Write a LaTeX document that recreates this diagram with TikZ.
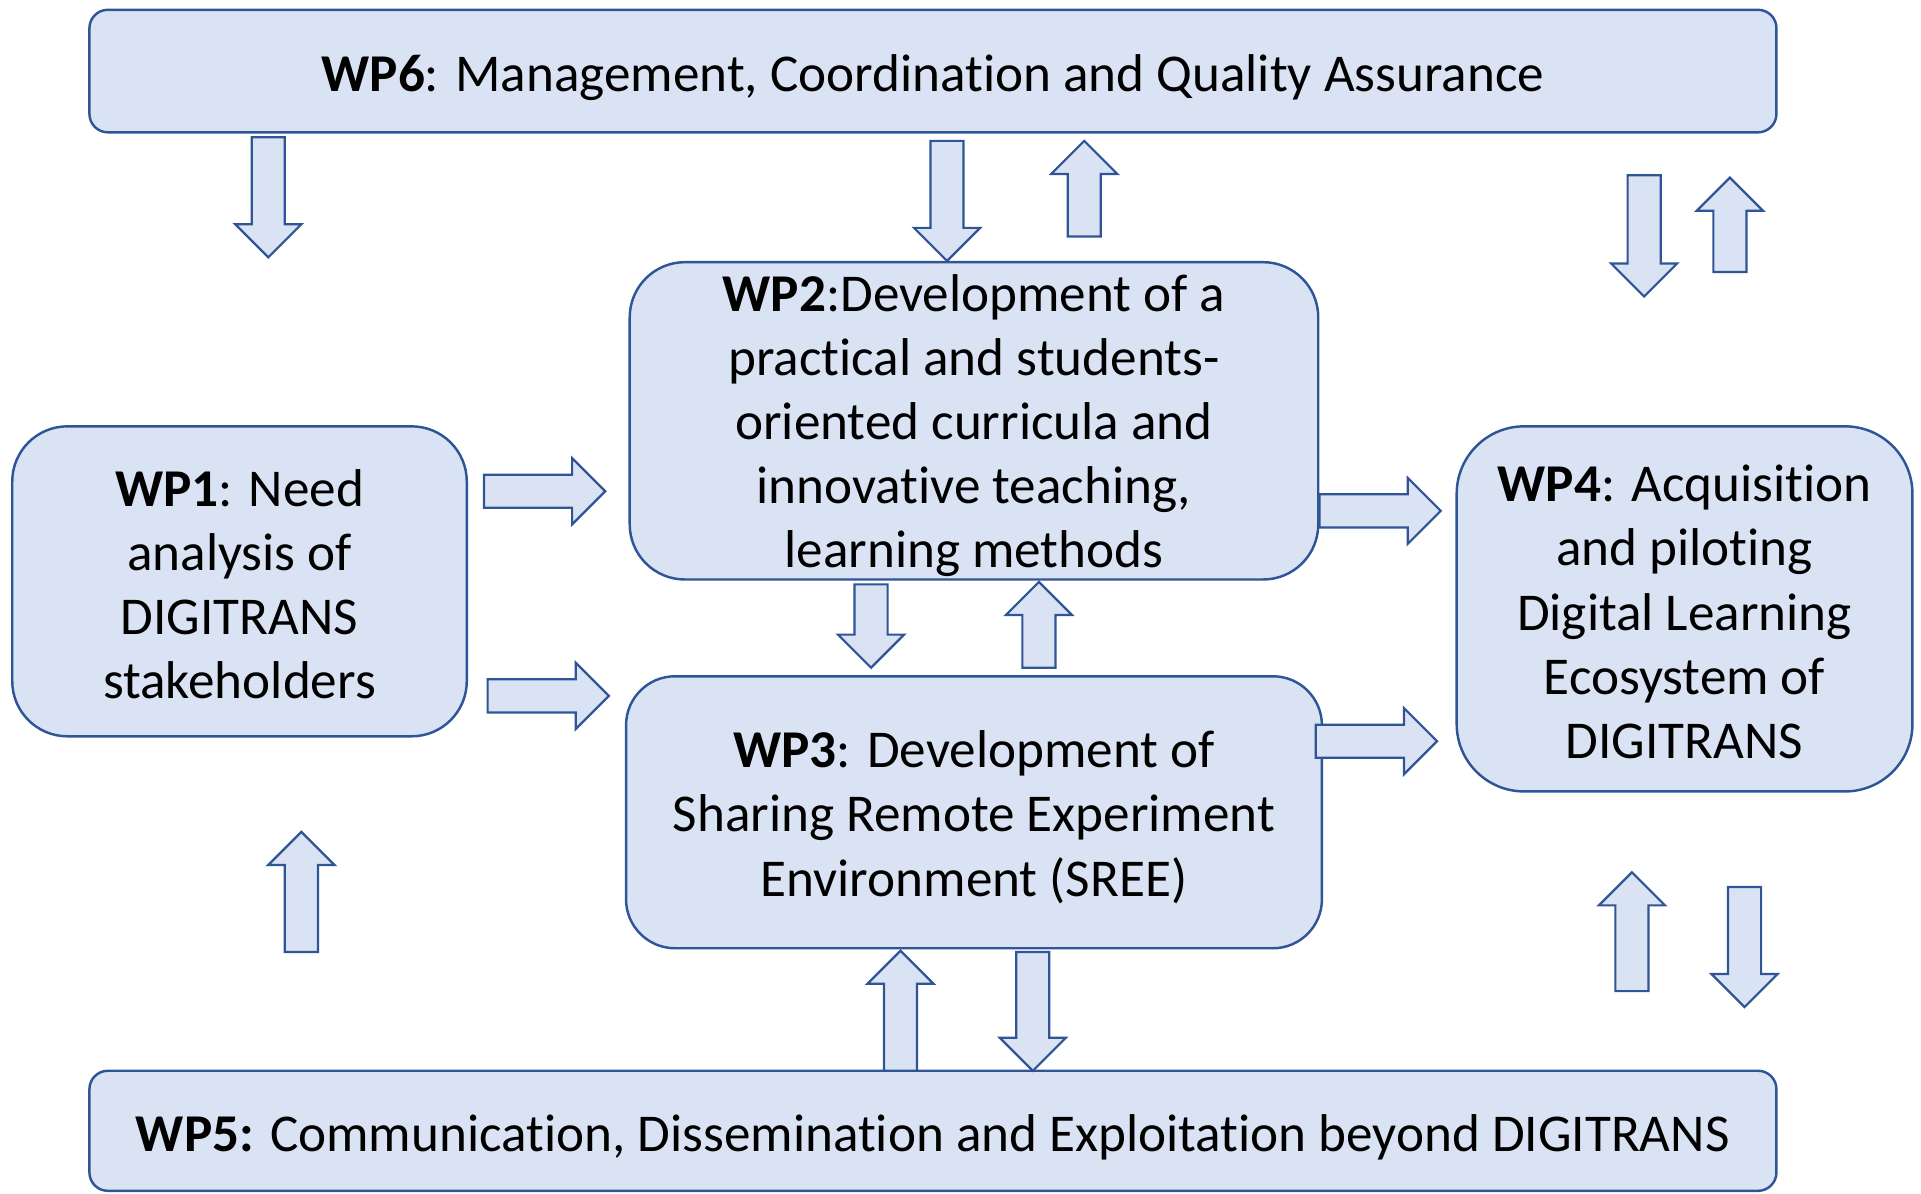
\documentclass[tikz,border=0pt]{standalone}
\usepackage{fontspec}
\setmainfont{Carlito}[Ligatures=NoCommon]
\newcommand\tI{t\kern0pt i}
\definecolor{boxfill}{HTML}{DAE3F3}
\definecolor{boxline}{HTML}{2F5597}
\tikzset{
  wpbox/.style={draw=boxline, fill=boxfill, line width=2pt, inner sep=0pt},
  wptext/.style={align=center, inner sep=0pt, font=\fontsize{43.4}{52.3}\selectfont},
  blockarrow/.style={draw=boxline, fill=boxfill, line width=1.8pt, line join=miter},
}
% down arrow: x, y of top, y of tip
\newcommand\ArrDown[3]{\draw[blockarrow] ({#1-13.5},{#2}) -- ({#1+13.5},{#2}) -- ({#1+13.5},{#3-27}) -- ({#1+27},{#3-27}) -- ({#1},{#3}) -- ({#1-27},{#3-27}) -- ({#1-13.5},{#3-27}) -- cycle;}
% up arrow: x, y of tip, y of bottom
\newcommand\ArrUp[3]{\draw[blockarrow] ({#1},{#2}) -- ({#1+27},{#2+27}) -- ({#1+13.5},{#2+27}) -- ({#1+13.5},{#3}) -- ({#1-13.5},{#3}) -- ({#1-13.5},{#2+27}) -- ({#1-27},{#2+27}) -- cycle;}
% right arrow: y, x of start, x of tip
\newcommand\ArrRight[3]{\draw[blockarrow] ({#2},{#1-13.5}) -- ({#3-27},{#1-13.5}) -- ({#3-27},{#1-27}) -- ({#3},{#1}) -- ({#3-27},{#1+27}) -- ({#3-27},{#1+13.5}) -- ({#2},{#1+13.5}) -- cycle;}
\begin{document}
\begin{tikzpicture}[x=1pt,y=-1pt]
\useasboundingbox (0,0) rectangle (1568,973.8);
% boxes
\node[wpbox, rounded corners=15pt, minimum width=1377pt, minimum height=100pt] (wp6) at (761.5,58) {};
\node[wpbox, rounded corners=45pt, minimum width=371pt, minimum height=253pt] (wp1) at (195.5,474.5) {};
\node[wpbox, rounded corners=45pt, minimum width=562pt, minimum height=259pt] (wp2) at (795,343.5) {};
\node[wpbox, rounded corners=40pt, minimum width=568pt, minimum height=222pt] (wp3) at (795,663) {};
\node[wpbox, rounded corners=55pt, minimum width=372pt, minimum height=298pt] (wp4) at (1375,497) {};
\node[wpbox, rounded corners=15pt, minimum width=1377pt, minimum height=98pt] (wp5) at (761.5,923) {};
% texts
\node[wptext] (wp6t) at ([yshift=-5pt]wp6.center)
  {\textbf{WP6}: Management, Coordina\tI on and Quality Assurance};
\node[wptext] (wp1t) at ([yshift=-2.5pt]wp1.center)
  {\textbf{WP1}: Need\\analysis of\\DIGITRANS\\stakeholders};
\node[wptext] (wp2t) at ([yshift=-4pt]wp2.center)
  {\textbf{WP2}:Development of a\\practical and students-\\oriented curricula and\\innova\tI ve teaching,\\learning methods};
\node[wptext] (wp3t) at ([yshift=-4pt]wp3.center)
  {\textbf{WP3}: Development of\\Sharing Remote Experiment\\Environment (SREE)};
\node[wptext] (wp4t) at ([yshift=-2.5pt]wp4.center)
  {\textbf{WP4}: Acquisi\tI on\\and pilo\tI ng\\Digital Learning\\Ecosystem of\\DIGITRANS};
\node[wptext] (wp5t) at ([yshift=-5pt]wp5.center)
  {\textbf{WP5:} Communica\tI on, Dissemina\tI on and Exploita\tI on beyond DIGITRANS};
% arrows
\ArrDown{219}{112}{210}
\ArrDown{773}{115}{213}
\ArrUp{885}{115}{193}
\ArrDown{1342}{143}{242}
\ArrUp{1412}{145}{222}
\ArrRight{401}{395}{494}
\ArrRight{568}{398}{497}
\ArrRight{417}{1077}{1176}
\ArrRight{605}{1074}{1173}
\ArrDown{711}{477}{545}
\ArrUp{848}{475}{545}
\ArrUp{246}{679}{777}
\ArrUp{735}{776}{874}
\ArrDown{843}{777}{874}
\ArrUp{1332}{712}{809}
\ArrDown{1424}{724}{822}
\end{tikzpicture}
\end{document}
